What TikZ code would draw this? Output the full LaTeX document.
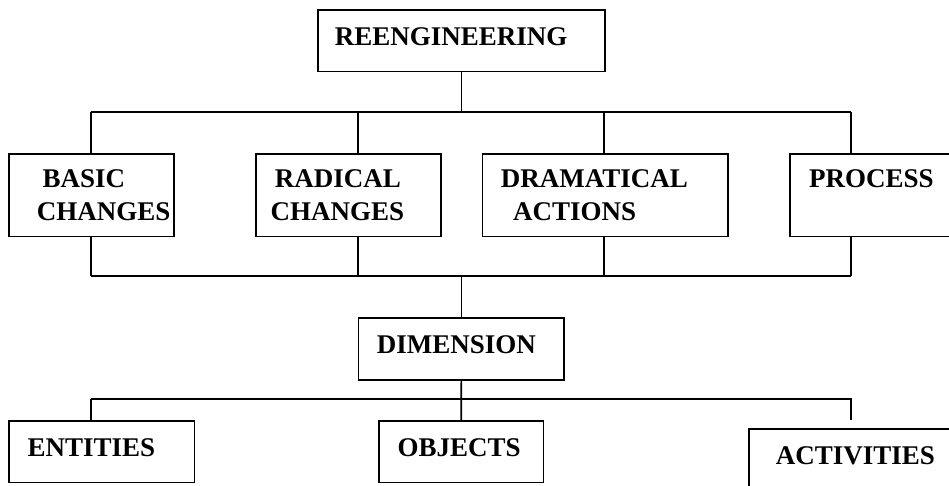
\documentclass[tikz,border=0pt]{standalone}
\usepackage{fontspec}
\setmainfont{Liberation Serif}
\usetikzlibrary{positioning,calc}

\begin{document}
\begin{tikzpicture}[
    x=1pt, y=-1pt,
    box/.style={draw=black, line width=1.7pt, anchor=north west, inner sep=0pt, align=left, font=\bfseries\fontsize{27}{33}\selectfont},
    single/.style={box, text depth=8pt},
    wire/.style={draw=black, line width=1.7pt}
]
\useasboundingbox (0,0) rectangle (949,485);

% Top level
\node[single, text width=287pt, minimum height=61.4pt] (reeng) at (317,9.3) {\hspace*{17pt}REENGINEERING};

% Second level
\node[box, text width=164.7pt, minimum height=82.4pt] (basic) at (8.3,153.3) {\hspace*{33.4pt}BASIC\\\hspace*{27.7pt}CHANGES};
\node[box, text width=185pt, minimum height=82.4pt] (radical) at (255,153.3) {\hspace*{19pt}RADICAL\\\hspace*{14.7pt}CHANGES};
\node[box, text width=245.6pt, minimum height=82.4pt] (dram) at (481.7,153.3) {\hspace*{18.3pt}DRAMATICAL\\\hspace*{30.6pt}ACTIONS};
\node[box, text width=170pt, minimum height=82.4pt] (process) at (789,153.3) {\hspace*{19.3pt}PROCESS\\\mbox{}};

% Middle
\node[single, text width=205.6pt, minimum height=61.7pt] (dim) at (357.7,317.3) {\hspace*{18.3pt}DIMENSION};

% Bottom level
\node[single, text width=185.4pt, minimum height=61.7pt] (entities) at (8.3,420) {\hspace*{18.4pt}ENTITIES};
\node[single, text width=164.7pt, minimum height=61.7pt] (objects) at (378,420) {\hspace*{18.7pt}OBJECTS};
\node[single, text width=215pt, minimum height=61.7pt] (activities) at (748,428.3) {\hspace*{27pt}ACTIVITIES};

% Bus points
\coordinate (a1) at (90.7,112);
\coordinate (a2) at (357.7,112);
\coordinate (a3) at (604.3,112);
\coordinate (a4) at (850.7,112);
\coordinate (b1) at (90.7,276);
\coordinate (b2) at (357.7,276);
\coordinate (b3) at (604.3,276);
\coordinate (b4) at (850.7,276);
\coordinate (c1) at (90.7,399.3);
\coordinate (c3) at (850.7,399.3);
\coordinate (c4) at (850.7,420);

% Connectors
\draw[wire] (reeng.south) -- (reeng.south |- a1);
\draw[wire] (a1) -- (a4);
\draw[wire] (a1) -- (basic.north -| a1);
\draw[wire] (a2) -- (radical.north -| a2);
\draw[wire] (a3) -- (dram.north -| a3);
\draw[wire] (a4) -- (process.north -| a4);
\draw[wire] (basic.south -| b1) -- (b1);
\draw[wire] (radical.south -| b2) -- (b2);
\draw[wire] (dram.south -| b3) -- (b3);
\draw[wire] (process.south -| b4) -- (b4);
\draw[wire] (b1) -- (b4);
\draw[wire] (dim.north |- b1) -- (dim.north);
\draw[wire] (dim.south) -- (objects.north);
\draw[wire] (c1) -- (c3) -- (c4);
\draw[wire] (c1) -- (entities.north -| c1);

\end{tikzpicture}
\end{document}
